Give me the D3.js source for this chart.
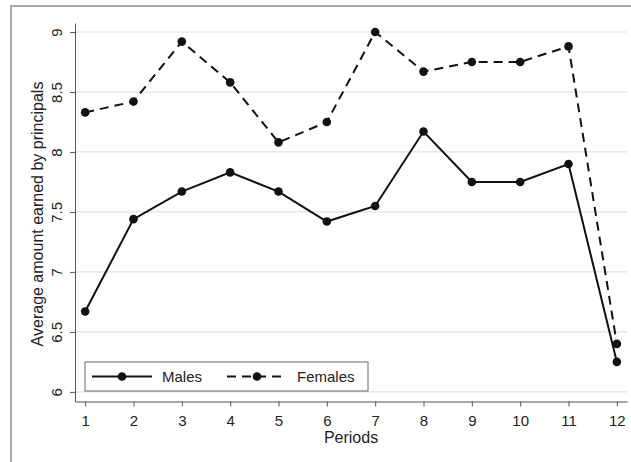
<!DOCTYPE html>
<html>
<head>
<meta charset="utf-8">
<script src="https://cdn.jsdelivr.net/npm/d3@7"></script>
<style>
  body { margin: 0; background: #fff; }
  text { font-family: "Liberation Sans", Arial, sans-serif; fill: #222; }
</style>
</head>
<body>
<svg width="631" height="462"></svg>
<script>
const periods = [1, 2, 3, 4, 5, 6, 7, 8, 9, 10, 11, 12];
const males = [6.67, 7.44, 7.67, 7.83, 7.67, 7.42, 7.55, 8.17, 7.75, 7.75, 7.9, 6.25];
const females = [8.33, 8.42, 8.92, 8.58, 8.08, 8.25, 9.0, 8.67, 8.75, 8.75, 8.88, 6.4];
const yTicks = [6, 6.5, 7, 7.5, 8, 8.5, 9];

const svg = d3.select("svg");
const width = +svg.attr("width");
const height = +svg.attr("height");

// outer frame (only top and left edges visible)
svg.append("path")
  .attr("d", `M11,${height} L11,6 L${width},6`)
  .attr("fill", "none")
  .attr("stroke", "#aaa")
  .attr("stroke-width", 2);

const xScale = d3.scaleLinear().domain([0.79, 12.21]).range([75, 627]);
const yScale = d3.scaleLinear().domain([5.92, 9.075]).range([401.5, 23]);

// grid
svg.append("g")
  .selectAll("line")
  .data(yTicks)
  .enter()
  .append("line")
  .attr("x1", 75)
  .attr("x2", 627)
  .attr("y1", (d) => yScale(d))
  .attr("y2", (d) => yScale(d))
  .attr("stroke", "#e0e0e0")
  .attr("stroke-width", 1.2);

const yAxis = d3.axisLeft(yScale)
  .tickValues(yTicks)
  .tickSize(5)
  .tickSizeOuter(0)
  .tickFormat(d3.format("~g"));

const yAxisG = svg.append("g")
  .attr("transform", "translate(75,0)")
  .call(yAxis);
yAxisG.select(".domain").attr("stroke", "#555");
yAxisG.selectAll(".tick line").attr("stroke", "#555");
yAxisG.selectAll(".tick text")
  .attr("transform", "rotate(-90)")
  .attr("x", 0)
  .attr("y", -13)
  .attr("dy", 0)
  .attr("text-anchor", "middle")
  .style("font-size", "15px")
  .style("font-family", "Liberation Sans, Arial, sans-serif")
  .attr("fill", "#222");

const xAxis = d3.axisBottom(xScale)
  .tickValues(periods)
  .tickSize(5)
  .tickSizeOuter(0)
  .tickFormat(d3.format("d"));

const xAxisG = svg.append("g")
  .attr("transform", "translate(0,401.5)")
  .call(xAxis);
xAxisG.select(".domain").attr("stroke", "#555");
xAxisG.selectAll(".tick line").attr("stroke", "#555");
xAxisG.selectAll(".tick text")
  .attr("y", 14)
  .style("font-size", "15px")
  .style("font-family", "Liberation Sans, Arial, sans-serif")
  .attr("fill", "#222");

svg.append("text")
  .attr("x", 351)
  .attr("y", 443)
  .attr("text-anchor", "middle")
  .style("font-size", "16px")
  .text("Periods");

svg.append("text")
  .attr("transform", "translate(43,214) rotate(-90)")
  .attr("text-anchor", "middle")
  .style("font-size", "16px")
  .text("Average amount earned by principals");

const line = d3.line()
  .x((d, i) => xScale(periods[i]))
  .y((d) => yScale(d));

const series = [
  { name: "Males", values: males, dash: null },
  { name: "Females", values: females, dash: "9,6" },
];

series.forEach((s) => {
  svg.append("path")
    .datum(s.values)
    .attr("fill", "none")
    .attr("stroke", "#111")
    .attr("stroke-width", 2)
    .attr("stroke-dasharray", s.dash)
    .attr("d", line);

  svg.append("g")
    .selectAll("circle")
    .data(s.values)
    .enter()
    .append("circle")
    .attr("cx", (d, i) => xScale(periods[i]))
    .attr("cy", (d) => yScale(d))
    .attr("r", 4.3)
    .attr("fill", "#111");
});

// legend
const legend = svg.append("g");
legend.append("rect")
  .attr("x", 85)
  .attr("y", 362)
  .attr("width", 283)
  .attr("height", 29)
  .attr("fill", "#fff")
  .attr("stroke", "#666")
  .attr("stroke-width", 1);

const legendItems = [
  { name: "Males", x: 92, dash: null },
  { name: "Females", x: 227, dash: "9,6" },
];
legendItems.forEach((it) => {
  legend.append("line")
    .attr("x1", it.x)
    .attr("x2", it.x + 60)
    .attr("y1", 376.5)
    .attr("y2", 376.5)
    .attr("stroke", "#111")
    .attr("stroke-width", 2)
    .attr("stroke-dasharray", it.dash);
  legend.append("circle")
    .attr("cx", it.x + 30)
    .attr("cy", 376.5)
    .attr("r", 4.3)
    .attr("fill", "#111");
  legend.append("text")
    .attr("x", it.x + 70)
    .attr("y", 382)
    .style("font-size", "15px")
    .text(it.name);
});
</script>
</body>
</html>
